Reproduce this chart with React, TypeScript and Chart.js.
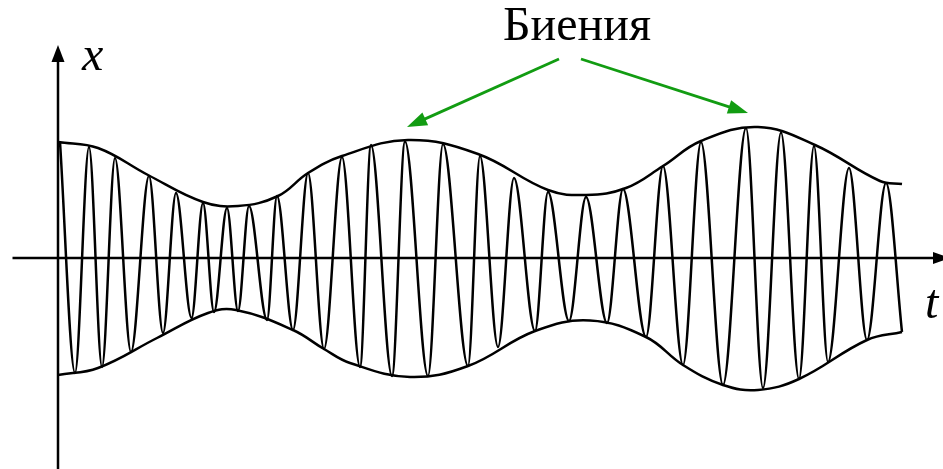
import React, { useEffect, useRef } from "react";
import { Chart, registerables } from "chart.js";

Chart.register(...registerables);

// Oscillation x(t): successive extrema (t, x)
const oscT = [2, 17, 31, 44, 57, 73, 91, 105, 118, 133.5, 145, 156, 169, 180, 191, 209, 219, 235, 250, 266, 284, 302, 313, 334, 347, 370, 385, 410, 422, 440, 456, 477, 490, 511, 528, 549, 565, 588, 605, 625, 643, 665, 688, 705, 723, 741, 756, 770, 791, 809, 828, 844];
const oscX = [116, -115, 111, -109, 100, -94, 82, -75, 65, -60, 55, -54, 50, -53, 52, -62, 62, -72, 85, -91, 101, -109, 113, -118, 116.5, -118, 114, -108, 102, -89, 80, -73, 66, -63, 61, -65, 69, -79, 92, -107, 116, -127, 130, -130, 125.5, -121, 112, -104, 90, -82, 75, -74];

// Upper envelope
const upperT = [0, 40, 90, 145, 180, 220, 250, 284, 350, 420, 490, 528, 568, 605, 643, 700, 757, 822, 844];
const upperX = [116, 110, 83, 56, 52, 62, 85, 102, 118, 104, 68, 63, 70, 92, 117, 131, 113, 77, 74];

// Lower envelope
const lowerT = [0, 40, 99, 150, 178, 235, 266, 292, 352, 410, 477, 532, 588, 625, 665, 700, 741, 809, 844];
const lowerX = [-117, -110, -80, -55, -52, -72, -91, -105, -119, -108, -73, -62.5, -79, -107, -127, -132, -121, -82, -74];

const toPoints = (ts: number[], xs: number[]) => ts.map((t, i) => ({ x: t, y: xs[i] }));

const GREEN = "#129c12";

function arrowHead(ctx: CanvasRenderingContext2D, fx: number, fy: number, tx: number, ty: number, len: number, half: number) {
  const dx = tx - fx;
  const dy = ty - fy;
  const L = Math.hypot(dx, dy);
  const ux = dx / L;
  const uy = dy / L;
  const bx = tx - ux * len;
  const by = ty - uy * len;
  ctx.beginPath();
  ctx.moveTo(tx, ty);
  ctx.lineTo(bx - uy * half, by + ux * half);
  ctx.lineTo(bx + uy * half, by - ux * half);
  ctx.closePath();
  ctx.fill();
}

const decorPlugin = {
  id: "decor",
  beforeDatasetsDraw(chart: any) {
    const ctx: CanvasRenderingContext2D = chart.ctx;
    const xs = chart.scales.x;
    const ys = chart.scales.y;
    const x0 = xs.getPixelForValue(0);
    const y0 = ys.getPixelForValue(0);
    const { top, bottom, left, right } = chart.chartArea;
    ctx.save();
    ctx.strokeStyle = "#000";
    ctx.fillStyle = "#000";
    ctx.lineWidth = 2.5;
    // vertical axis
    ctx.beginPath();
    ctx.moveTo(x0, bottom);
    ctx.lineTo(x0, top + 58);
    ctx.stroke();
    arrowHead(ctx, x0, top + 100, x0, top + 45, 17, 6.5);
    // horizontal axis
    ctx.beginPath();
    ctx.moveTo(left + 12.5, y0);
    ctx.lineTo(right - 10, y0);
    ctx.stroke();
    arrowHead(ctx, right - 100, y0, right + 7, y0, 17, 6);
    ctx.restore();
  },
  afterDatasetsDraw(chart: any) {
    const ctx: CanvasRenderingContext2D = chart.ctx;
    const xs = chart.scales.x;
    const ys = chart.scales.y;
    const px = (t: number) => xs.getPixelForValue(t);
    const py = (v: number) => ys.getPixelForValue(v);
    ctx.save();
    ctx.fillStyle = "#000";
    ctx.textBaseline = "alphabetic";
    ctx.textAlign = "left";
    ctx.font = "italic 48px 'Liberation Serif', 'DejaVu Serif', serif";
    ctx.fillText("x", px(24), py(188));
    ctx.fillText("t", px(867), py(-60));
    ctx.font = "48px 'Liberation Serif', 'DejaVu Serif', serif";
    ctx.fillText("Биения", px(445), py(218));
    // green arrows
    ctx.strokeStyle = GREEN;
    ctx.fillStyle = GREEN;
    ctx.lineWidth = 2.8;
    const arrows = [
      [px(501), py(199), px(349), py(131)],
      [px(523), py(199), px(690), py(145)],
    ];
    for (const [fx, fy, tx, ty] of arrows) {
      const L = Math.hypot(tx - fx, ty - fy);
      const ex = tx - ((tx - fx) / L) * 15;
      const ey = ty - ((ty - fy) / L) * 15;
      ctx.beginPath();
      ctx.moveTo(fx, fy);
      ctx.lineTo(ex, ey);
      ctx.stroke();
      arrowHead(ctx, fx, fy, tx, ty, 20, 7);
    }
    ctx.restore();
  },
};

export default function App() {
  const ref = useRef<HTMLCanvasElement | null>(null);
  useEffect(() => {
    if (!ref.current) return;
    const line = {
      showLine: true,
      pointRadius: 0,
      borderColor: "#000",
      borderWidth: 2.5,
      fill: false,
      clip: false as any,
    };
    const chart = new Chart(ref.current, {
      type: "scatter",
      data: {
        datasets: [
          { ...line, label: "x(t)", data: toPoints(oscT, oscX), cubicInterpolationMode: "monotone" as const },
          { ...line, label: "upper", data: toPoints(upperT, upperX), tension: 0.4 },
          { ...line, label: "lower", data: toPoints(lowerT, lowerX), tension: 0.4 },
        ],
      },
      options: {
        animation: false,
        responsive: false,
        maintainAspectRatio: false,
        layout: { padding: 0 },
        plugins: {
          legend: { display: false },
          tooltip: { enabled: false },
          title: { display: false },
        },
        events: [],
        scales: {
          x: { type: "linear", min: -58, max: 885, display: false },
          y: { type: "linear", min: -211, max: 258, display: false },
        },
      },
      plugins: [decorPlugin],
    });
    return () => chart.destroy();
  }, []);
  return (
    <div style={{ position: "absolute", left: 0, top: 0, width: 943, height: 469, background: "#fff" }}>
      <canvas ref={ref} width={943} height={469} style={{ width: 943, height: 469, display: "block" }} />
    </div>
  );
}
